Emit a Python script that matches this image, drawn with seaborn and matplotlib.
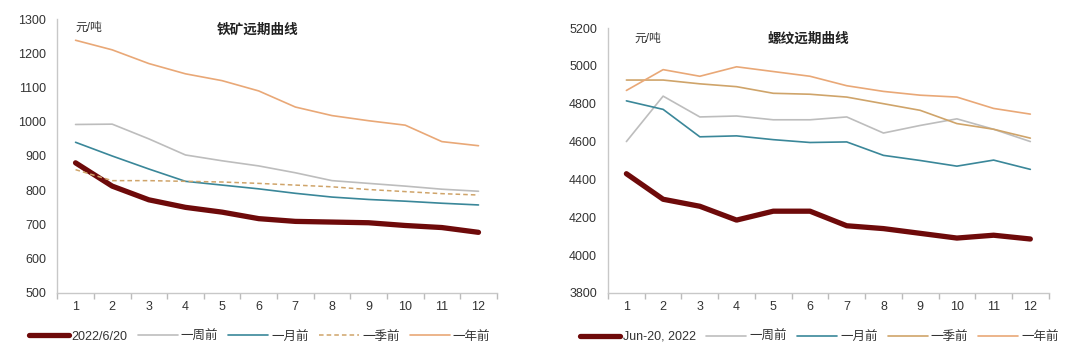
import pandas as pd
import matplotlib
matplotlib.use('Agg')
import matplotlib.pyplot as plt
import seaborn as sns
from matplotlib.ticker import FixedLocator

# --- data ---
months = list(range(1, 13))

ore_series = ['2022/6/20', '一周前', '一月前', '一季前', '一年前']
ore_now = [880, 812, 772, 750, 736, 717, 709, 707, 705, 697, 691, 677]
ore_week = [992, 993, 950, 903, 886, 871, 851, 828, 820, 812, 803, 797]
ore_month = [940, 900, 862, 826, 815, 804, 791, 780, 773, 768, 762, 757]
ore_quarter = [860, 828, 828, 826, 824, 820, 815, 810, 802, 796, 790, 786]
ore_year = [1238, 1210, 1170, 1140, 1120, 1090, 1043, 1018, 1003, 990, 942, 930]

rebar_series = ['Jun-20, 2022', '一周前', '一月前', '一季前', '一年前']
rebar_now = [4430, 4295, 4258, 4185, 4232, 4232, 4155, 4140, 4115, 4090, 4105, 4085]
rebar_week = [4600, 4840, 4730, 4735, 4715, 4715, 4730, 4645, 4685, 4720, 4665, 4600]
rebar_month = [4815, 4770, 4625, 4630, 4610, 4595, 4598, 4527, 4500, 4470, 4502, 4453]
rebar_quarter = [4925, 4925, 4905, 4890, 4855, 4850, 4835, 4800, 4765, 4695, 4665, 4618]
rebar_year = [4870, 4980, 4945, 4995, 4970, 4945, 4895, 4865, 4845, 4835, 4775, 4745]

sns.set_theme(style="white")
plt.rcParams['font.family'] = ['Liberation Sans', 'Noto Sans CJK SC']
plt.rcParams['axes.unicode_minus'] = False

dark_red = '#6e0a0a'
gray = '#bdbdbd'
teal = '#3a8799'
tan = '#cfa46a'
orange = '#e9a877'


def draw(ax, names, values, styles, ylim, yticks, title, unit_y, unit_x, leg_x, leg_y):
    for name, vals, (color, lw, ls) in zip(names, values, styles):
        df = pd.DataFrame({'m': months, 'v': vals})
        sns.lineplot(data=df, x='m', y='v', ax=ax, color=color, linewidth=lw,
                     linestyle=ls, label=name)
    ax.set_xlim(0.5, 12.5)
    ax.set_ylim(*ylim)
    ax.set_yticks(yticks)
    ax.set_xticks(months)
    ax.xaxis.set_minor_locator(FixedLocator([i + 0.5 for i in range(0, 13)]))
    ax.tick_params(axis='x', which='major', length=0, labelsize=9, pad=6, colors='#333333')
    ax.tick_params(axis='x', which='minor', length=4, color='#bbbbbb', direction='out', bottom=True)
    ax.tick_params(axis='y', length=0, labelsize=9, pad=8, colors='#333333')
    ax.set_xlabel('')
    ax.set_ylabel('')
    for s in ['top', 'right']:
        ax.spines[s].set_visible(False)
    for s in ['left', 'bottom']:
        ax.spines[s].set_color('#c8c8c8')
        ax.spines[s].set_linewidth(1.0)
    ax.text(0.456, 0.985, title, transform=ax.transAxes, ha='center', va='top',
            fontsize=9.8, fontweight='bold', color='#222222')
    ax.text(unit_x, unit_y, '元/吨', transform=ax.transAxes, ha='left', va='top',
            fontsize=8.5, color='#333333')
    ax.legend(loc='center', bbox_to_anchor=(leg_x, leg_y), ncol=5, frameon=False,
              fontsize=9, handlelength=3.2, handletextpad=0.25, columnspacing=0.8,
              labelcolor='#333333')


fig = plt.figure(figsize=(10.8, 3.59), dpi=100)
ax1 = fig.add_axes([0.053, 0.184, 0.407, 0.763])
ax2 = fig.add_axes([0.563, 0.184, 0.408, 0.738])

draw(ax1, ore_series, [ore_now, ore_week, ore_month, ore_quarter, ore_year],
     [(dark_red, 3.8, '-'), (gray, 1.2, '-'), (teal, 1.2, '-'),
      (tan, 1.1, (0, (3, 2))), (orange, 1.2, '-')],
     (500, 1300), range(500, 1301, 100), '铁矿远期曲线', 0.99, 0.041, 0.46, -0.16)

draw(ax2, rebar_series, [rebar_now, rebar_week, rebar_month, rebar_quarter, rebar_year],
     [(dark_red, 3.8, '-'), (gray, 1.2, '-'), (teal, 1.2, '-'),
      (tan, 1.2, '-'), (orange, 1.2, '-')],
     (3800, 5200), range(3800, 5201, 200), '螺纹远期曲线', 0.98, 0.061, 0.48, -0.166)

fig.savefig('out.png', dpi=100, facecolor='white')
